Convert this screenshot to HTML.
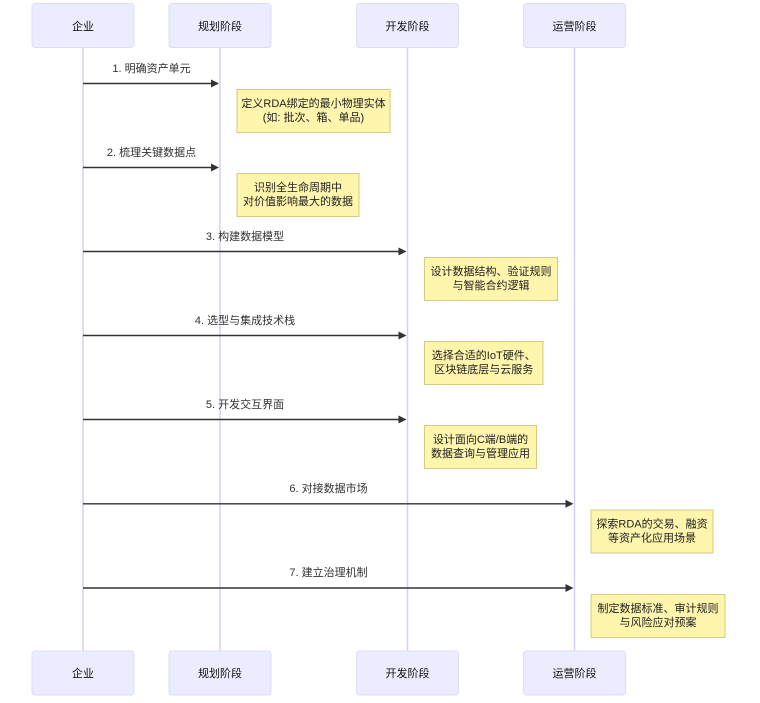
<!DOCTYPE html>
<html><head><meta charset="utf-8"><style>
html,body{margin:0;padding:0;background:#fff;}
svg{display:block;}
text{font-family:"Liberation Sans","Noto Sans CJK SC",sans-serif;font-size:11px;}
.actor{fill:#ECECFF;stroke:#DDDDF8;stroke-width:1;}
.life{stroke:#D9CEF3;stroke-width:1.5;}
.msg{stroke:#333;stroke-width:1.4;}
.note{fill:#FFF5AD;stroke:#D2CB80;stroke-width:1;}
.at{fill:#111;text-anchor:middle;}
.mt{fill:#333;text-anchor:middle;}
.nt{fill:#222;text-anchor:middle;}
</style></head><body>
<svg width="760" height="703" viewBox="0 0 760 703" xmlns="http://www.w3.org/2000/svg">
<!-- lifelines -->
<line class="life" x1="83" y1="47" x2="83" y2="651"/>
<line class="life" x1="220" y1="47" x2="220" y2="651"/>
<line class="life" x1="407.5" y1="47" x2="407.5" y2="651"/>
<line class="life" x1="574.5" y1="47" x2="574.5" y2="651"/>

<!-- top actors -->
<rect class="actor" x="32" y="3.5" width="102" height="44" rx="3"/>
<text class="at" x="83" y="30">企业</text>
<rect class="actor" x="169" y="3.5" width="102" height="44" rx="3"/>
<text class="at" x="220" y="30">规划阶段</text>
<rect class="actor" x="356.5" y="3.5" width="102" height="44" rx="3"/>
<text class="at" x="407.5" y="30">开发阶段</text>
<rect class="actor" x="523.5" y="3.5" width="102" height="44" rx="3"/>
<text class="at" x="574.5" y="30">运营阶段</text>

<!-- bottom actors -->
<rect class="actor" x="32" y="651" width="102" height="44" rx="3"/>
<text class="at" x="83" y="677">企业</text>
<rect class="actor" x="169" y="651" width="102" height="44" rx="3"/>
<text class="at" x="220" y="677">规划阶段</text>
<rect class="actor" x="356.5" y="651" width="102" height="44" rx="3"/>
<text class="at" x="407.5" y="677">开发阶段</text>
<rect class="actor" x="523.5" y="651" width="102" height="44" rx="3"/>
<text class="at" x="574.5" y="677">运营阶段</text>

<!-- messages -->
<line class="msg" x1="83" y1="83.5" x2="212" y2="83.5"/>
<polygon points="219,83.5 211,79.5 211,87.5" fill="#333"/>
<text class="mt" x="151.5" y="72">1. 明确资产单元</text>

<line class="msg" x1="83" y1="167.5" x2="212" y2="167.5"/>
<polygon points="219,167.5 211,163.5 211,171.5" fill="#333"/>
<text class="mt" x="151.5" y="156">2. 梳理关键数据点</text>

<line class="msg" x1="83" y1="251.5" x2="399" y2="251.5"/>
<polygon points="406.5,251.5 398.5,247.5 398.5,255.5" fill="#333"/>
<text class="mt" x="245" y="240">3. 构建数据模型</text>

<line class="msg" x1="83" y1="335.5" x2="399" y2="335.5"/>
<polygon points="406.5,335.5 398.5,331.5 398.5,339.5" fill="#333"/>
<text class="mt" x="245" y="324">4. 选型与集成技术栈</text>

<line class="msg" x1="83" y1="419.5" x2="399" y2="419.5"/>
<polygon points="406.5,419.5 398.5,415.5 398.5,423.5" fill="#333"/>
<text class="mt" x="245" y="408">5. 开发交互界面</text>

<line class="msg" x1="83" y1="503.8" x2="566" y2="503.8"/>
<polygon points="573.5,503.8 565.5,499.8 565.5,507.8" fill="#333"/>
<text class="mt" x="328.5" y="492">6. 对接数据市场</text>

<line class="msg" x1="83" y1="588" x2="566" y2="588"/>
<polygon points="573.5,588 565.5,584 565.5,592" fill="#333"/>
<text class="mt" x="328.5" y="576">7. 建立治理机制</text>

<!-- notes -->
<rect class="note" x="237" y="89.5" width="153" height="43"/>
<text class="nt" x="313.5" y="107">定义RDA绑定的最小物理实体</text>
<text class="nt" x="313.5" y="121">(如: 批次、箱、单品)</text>

<rect class="note" x="237" y="173.5" width="122" height="43"/>
<text class="nt" x="298" y="191">识别全生命周期中</text>
<text class="nt" x="298" y="205">对价值影响最大的数据</text>

<rect class="note" x="424.5" y="257.5" width="133" height="43"/>
<text class="nt" x="491" y="275">设计数据结构、验证规则</text>
<text class="nt" x="491" y="289">与智能合约逻辑</text>

<rect class="note" x="424.5" y="341.5" width="118.5" height="43"/>
<text class="nt" x="483.75" y="359">选择合适的IoT硬件、</text>
<text class="nt" x="483.75" y="373">区块链底层与云服务</text>

<rect class="note" x="424.5" y="425.5" width="112" height="43"/>
<text class="nt" x="480.5" y="443">设计面向C端/B端的</text>
<text class="nt" x="480.5" y="457">数据查询与管理应用</text>

<rect class="note" x="591" y="510" width="122" height="43"/>
<text class="nt" x="652" y="527.5">探索RDA的交易、融资</text>
<text class="nt" x="652" y="541.5">等资产化应用场景</text>

<rect class="note" x="591" y="594.5" width="134" height="43"/>
<text class="nt" x="658" y="612">制定数据标准、审计规则</text>
<text class="nt" x="658" y="626">与风险应对预案</text>
</svg>
</body></html>
